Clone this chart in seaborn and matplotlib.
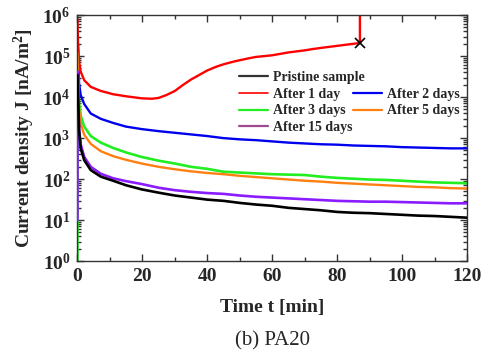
import numpy as np
import pandas as pd
import matplotlib
matplotlib.use("Agg")
import matplotlib.pyplot as plt
import seaborn as sns
from matplotlib.lines import Line2D
from matplotlib.ticker import MultipleLocator, LogLocator, FuncFormatter, NullFormatter

# ---- data (log10 of current density) ----
t_std = [0, 0.05, 0.5, 1.0, 2.1, 4.1, 7.2, 11, 15, 19.8,
         25, 30, 35, 40, 45, 50, 55, 60, 65, 70, 75, 80, 85, 90, 95, 100, 105, 110, 115, 120]

t_red = [0, 0.2, 0.5, 1.0, 2.1, 4.1, 7.2, 11, 15, 19.8, 23, 25, 27.4, 30, 32.4, 35, 37.5, 40, 42.7,
         45, 47.8, 50, 53, 55, 60, 65, 70, 72.3, 75, 80, 85, 87, 87]
log_red = [5.9, 5.3, 4.86, 4.62, 4.41, 4.25, 4.15, 4.07, 4.02, 3.97, 3.96, 3.98, 4.05, 4.15, 4.29,
           4.43, 4.54, 4.65, 4.74, 4.80, 4.86, 4.90, 4.95, 4.98, 5.02, 5.09, 5.14, 5.17, 5.20, 5.25,
           5.30, 5.32, 6.5]

log_blue = [5.56, 5.5, 4.34, 4.05, 3.83, 3.60, 3.47, 3.37, 3.28, 3.22,
            3.17, 3.13, 3.09, 3.05, 3.0, 2.97, 2.95, 2.92, 2.89, 2.87, 2.85, 2.84, 2.82, 2.81, 2.80,
            2.78, 2.77, 2.76, 2.75, 2.75]
log_green = [0.0, 4.5, 3.85, 3.55, 3.28, 3.05, 2.89, 2.76, 2.65, 2.54,
             2.45, 2.38, 2.30, 2.25, 2.18, 2.16, 2.14, 2.12, 2.11, 2.10, 2.06, 2.03, 2.01, 1.99, 1.98,
             1.96, 1.94, 1.92, 1.91, 1.90]
log_orange = [5.07, 5.0, 3.7, 3.35, 3.08, 2.86, 2.68, 2.56, 2.47, 2.38,
              2.30, 2.24, 2.19, 2.15, 2.12, 2.08, 2.05, 2.02, 1.99, 1.96, 1.94, 1.91, 1.89, 1.87, 1.85,
              1.83, 1.81, 1.80, 1.78, 1.77]
log_purple = [1.0, 4.62, 3.2, 2.85, 2.54, 2.30, 2.13, 2.02, 1.95, 1.88,
              1.79, 1.73, 1.69, 1.66, 1.64, 1.60, 1.57, 1.55, 1.53, 1.51, 1.49, 1.47, 1.46, 1.45, 1.45,
              1.44, 1.43, 1.42, 1.41, 1.41]
log_black = [4.54, 4.4, 3.2, 2.75, 2.46, 2.22, 2.06, 1.96, 1.85, 1.75,
             1.67, 1.60, 1.55, 1.50, 1.47, 1.42, 1.38, 1.35, 1.30, 1.27, 1.24, 1.20, 1.18, 1.17, 1.15,
             1.13, 1.11, 1.10, 1.08, 1.06]

failure_t = 87
failure_log = 5.32

labels = ["Pristine sample", "After 1 day", "After 2 days", "After 3 days", "After 5 days", "After 15 days"]
colors = {"black": "black", "red": "#ff0000", "blue": "#0000ee", "green": "#22ee22",
          "orange": "#ff8010", "purple": "#8a1cff"}

# ---- style ----
sns.set_theme(style="ticks")
plt.rcParams["font.family"] = ["Liberation Serif", "DejaVu Serif"]
plt.rcParams["font.weight"] = "bold"
plt.rcParams["axes.labelweight"] = "bold"
plt.rcParams["mathtext.fontset"] = "custom"
plt.rcParams["mathtext.rm"] = "Liberation Serif:bold"
plt.rcParams["mathtext.it"] = "Liberation Serif:bold"
plt.rcParams["mathtext.bf"] = "Liberation Serif:bold"
plt.rcParams["mathtext.default"] = "rm"

fig = plt.figure(figsize=(4.84, 3.51), dpi=100)
ax = fig.add_axes([0.16, 0.256, 0.805, 0.701])

def draw(t, logv, color, order, lw=1.7):
    df = pd.DataFrame({"t": t, "J": np.power(10.0, logv)})
    sns.lineplot(data=df, x="t", y="J", ax=ax, color=color, lw=lw,
                 estimator=None, sort=False, zorder=order)

draw(t_std, log_green, colors["green"], 2, 1.9)
draw(t_std, log_purple, colors["purple"], 3, 1.9)
draw(t_std, log_orange, colors["orange"], 2.5)
draw(t_std, log_blue, colors["blue"], 2)
draw(t_std, log_black, colors["black"], 3.5, 1.9)
draw(t_red, log_red, colors["red"], 2)
ax.plot([failure_t], [10 ** failure_log], marker="x", color="black", ms=7, mew=1.2, zorder=5)

ax.set_yscale("log")
ax.set_xlim(0, 120)
ax.set_ylim(1, 1e6)
ax.xaxis.set_major_locator(MultipleLocator(20))
ax.xaxis.set_minor_locator(MultipleLocator(10))
ax.yaxis.set_major_locator(LogLocator(base=10, numticks=10))
ax.yaxis.set_minor_locator(LogLocator(base=10, subs=np.arange(2, 10), numticks=20))
ax.yaxis.set_minor_formatter(NullFormatter())
ax.yaxis.set_major_formatter(FuncFormatter(lambda v, p: r"$10^{%d}$" % int(round(np.log10(v)))))
ax.tick_params(which="both", direction="in", top=True, right=True, labelsize=14, width=1, color="#333333")
ax.tick_params(which="major", length=5, pad=5)
ax.tick_params(which="minor", length=3)
for s in ax.spines.values():
    s.set_linewidth(1.0)
    s.set_color("#333333")

ax.set_xlabel("Time t [min]", fontsize=14, fontweight="bold", labelpad=10)
ax.set_ylabel(r"Current density J [nA/m$^2$]", fontsize=14, fontweight="bold", labelpad=4)

leg_kw = dict(frameon=False, fontsize=10, loc="upper left", handlelength=2.1,
              handletextpad=0.36, labelspacing=0.25, borderaxespad=0, borderpad=0,
              bbox_transform=fig.transFigure)
leg1 = ax.legend([Line2D([], [], color="#333333", lw=1.6)], [labels[0]],
                 bbox_to_anchor=(239 / 484, 1 - 71 / 351), **leg_kw)
ax.add_artist(leg1)
handles2 = [
    Line2D([], [], color=colors["red"], lw=1.2),
    Line2D([], [], color=colors["green"], lw=1.6),
    Line2D([], [], color="#a04a90", lw=1.6),
    Line2D([], [], color=colors["blue"], lw=1.6),
    Line2D([], [], color=colors["orange"], lw=1.6),
]
ax.legend(handles2, [labels[1], labels[3], labels[5], labels[2], labels[4]], ncol=2,
          columnspacing=0.0, bbox_to_anchor=(239 / 484, 1 - 88 / 351), **leg_kw)

fig.text(0.562, 0.028, "(b) PA20", ha="center", va="center", fontsize=15, fontweight="normal")

fig.savefig("out.png", dpi=100)
